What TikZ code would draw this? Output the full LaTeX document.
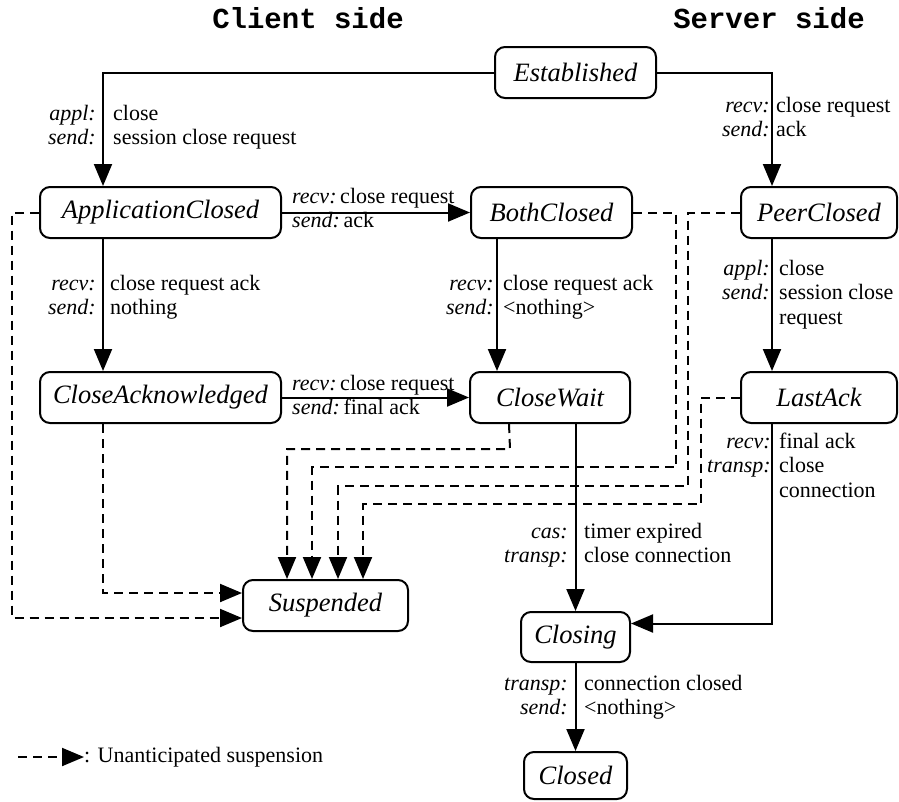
\documentclass[tikz,border=0pt]{standalone}
\usepackage{fontspec}
\setmainfont{Liberation Serif}
\newfontfamily\ttlfont{Liberation Mono}
\usetikzlibrary{arrows.meta,calc}

% font sizes for states, transition labels and column titles
\newcommand\stfont{\fontsize{26.5}{30}\selectfont\itshape}
\newcommand\lbfont{\fontsize{22}{24.5}\selectfont}
\newcommand\lst{\rule{0pt}{18pt}}

\begin{document}
\begin{tikzpicture}[x=1pt,y=-1pt,
  state/.style={draw, line width=2pt, rounded corners=10pt, minimum height=51pt,
    inner sep=0pt, font=\stfont},
  trans/.style={line width=2pt, -{Triangle[length=22pt,width=18pt]}},
  suspend/.style={trans, dash pattern=on 9pt off 6pt},
  keylab/.style={font=\lbfont\itshape, align=right, anchor=north east, inner sep=0pt},
  vallab/.style={font=\lbfont, align=left, anchor=north west, inner sep=0pt},
  pairlab/.style={font=\lbfont, align=left, anchor=north west, inner sep=0pt},
  coltitle/.style={font=\ttlfont\bfseries\fontsize{29}{32}\selectfont, inner sep=0pt}
]
\useasboundingbox (0,0) rectangle (899,801);

% column titles
\node[coltitle] (tclient) at (308,18) {Client side};
\node[coltitle] (tserver) at (769,18) {Server side};

% states
\node[state, minimum width=161pt] (est)   at (575.5,72.5)  {Established};
\node[state, minimum width=241pt] (appc)  at (160.5,212.5) {ApplicationClosed};
\node[state, minimum width=161pt] (both)  at (551.5,212.5) {BothClosed};
\node[state, minimum width=156pt] (peer)  at (819,212.5)   {PeerClosed};
\node[state, minimum width=241pt] (cack)  at (160.5,397.5) {CloseAcknowledged};
\node[state, minimum width=160pt] (cwait) at (550,397.5)   {CloseWait};
\node[state, minimum width=156pt] (last)  at (819,397.5)   {LastAck};
\node[state, minimum width=165pt] (susp)  at (325.5,605.5) {Suspended};
\node[state, minimum width=109pt, minimum height=50pt] (closing) at (575.5,637) {Closing};
\node[state, minimum width=103pt, minimum height=47pt] (closed)  at (575.5,775.5) {Closed};

% regular transitions
\draw[trans] (est.west) -| ($(appc.north west)+(64,0)$);
\draw[trans] ($(appc.south west)+(64,0)$) -- ($(cack.north west)+(64,0)$);
\draw[trans] (appc.east) -- (both.west);
\draw[trans] ($(both.south west)+(27,0)$) -- ($(cwait.north west)+(28,0)$);
\draw[trans] (cack.east) -- (cwait.west);
\draw[trans] (est.east) -| ($(peer.north west)+(32,0)$);
\draw[trans] ($(peer.south west)+(32,0)$) -- ($(last.north west)+(32,0)$);
\draw[trans] (closing.north |- cwait.south) -- (closing.north);
\draw[trans] ($(last.south west)+(32,0)$) |- ($(closing.north east)+(0,12.5)$);
\draw[trans] (closing.south) -- (closed.north);

% unanticipated suspensions
\coordinate (bendA) at (12,618);
\coordinate (bendB) at (510,449);
\coordinate (bendC) at (676,467);
\coordinate (bendD) at (688,486);
\coordinate (bendE) at (701,504);
\draw[suspend] (appc.west) -| (bendA) -- ($(susp.west)+(0,12.5)$);
\draw[suspend] ($(cack.south west)+(64,0)$) |- ($(susp.west)+(0,-12.5)$);
\draw[suspend] ($(cwait.south west)+(40,0)$) -- (bendB) -| ($(susp.north west)+(45,0)$);
\draw[suspend] (both.east) -| (bendC) -| ($(susp.north west)+(70,0)$);
\draw[suspend] (peer.west) -| (bendD) -| ($(susp.north west)+(96,0)$);
\draw[suspend] (last.west) -| (bendE) -| ($(susp.north west)+(121,0)$);

% transition labels
\node[keylab] (k1) at (96,102) {\lst appl:\\send:};
\node[vallab] (v1) at (113,102) {\lst close\\session close request};

\node[keylab] (k2) at (770,94) {\lst recv:\\send:};
\node[vallab] (v2) at (776,94) {\lst close request\\ack};

\node[pairlab] (p3) at (292,185) {\lst\textit{recv:}\,close request\\\textit{send:}\,ack};

\node[keylab] (k4) at (96,272) {\lst recv:\\send:};
\node[vallab] (v4) at (110,272) {\lst close request ack\\nothing};

\node[keylab] (k5) at (494,272) {\lst recv:\\send:};
\node[vallab] (v5) at (503,272) {\lst close request ack\\\textless nothing\textgreater};

\node[keylab] (k6) at (770,257) {\lst appl:\\send:};
\node[vallab] (v6) at (779,257) {\lst close\\session close\\request};

\node[pairlab] (p7) at (292,372) {\lst\textit{recv:}\,close request\\\textit{send:}\,final ack};

\node[keylab] (k8) at (568,520) {\lst cas:\\transp:};
\node[vallab] (v8) at (584,520) {\lst timer expired\\close connection};

\node[keylab] (k9) at (771,430) {\lst recv:\\transp:};
\node[vallab] (v9) at (779,430) {\lst final ack\\close\\connection};

\node[keylab] (k10) at (568,672) {\lst transp:\\send:};
\node[vallab] (v10) at (584,672) {\lst connection closed\\\textless nothing\textgreater};

% legend
\coordinate (legA) at (18,757);
\node[anchor=west, font=\lbfont, inner sep=0pt] (legtxt) at (84,757) {: Unanticipated suspension};
\draw[suspend] (legA) -- (legtxt.west);

\end{tikzpicture}
\end{document}
